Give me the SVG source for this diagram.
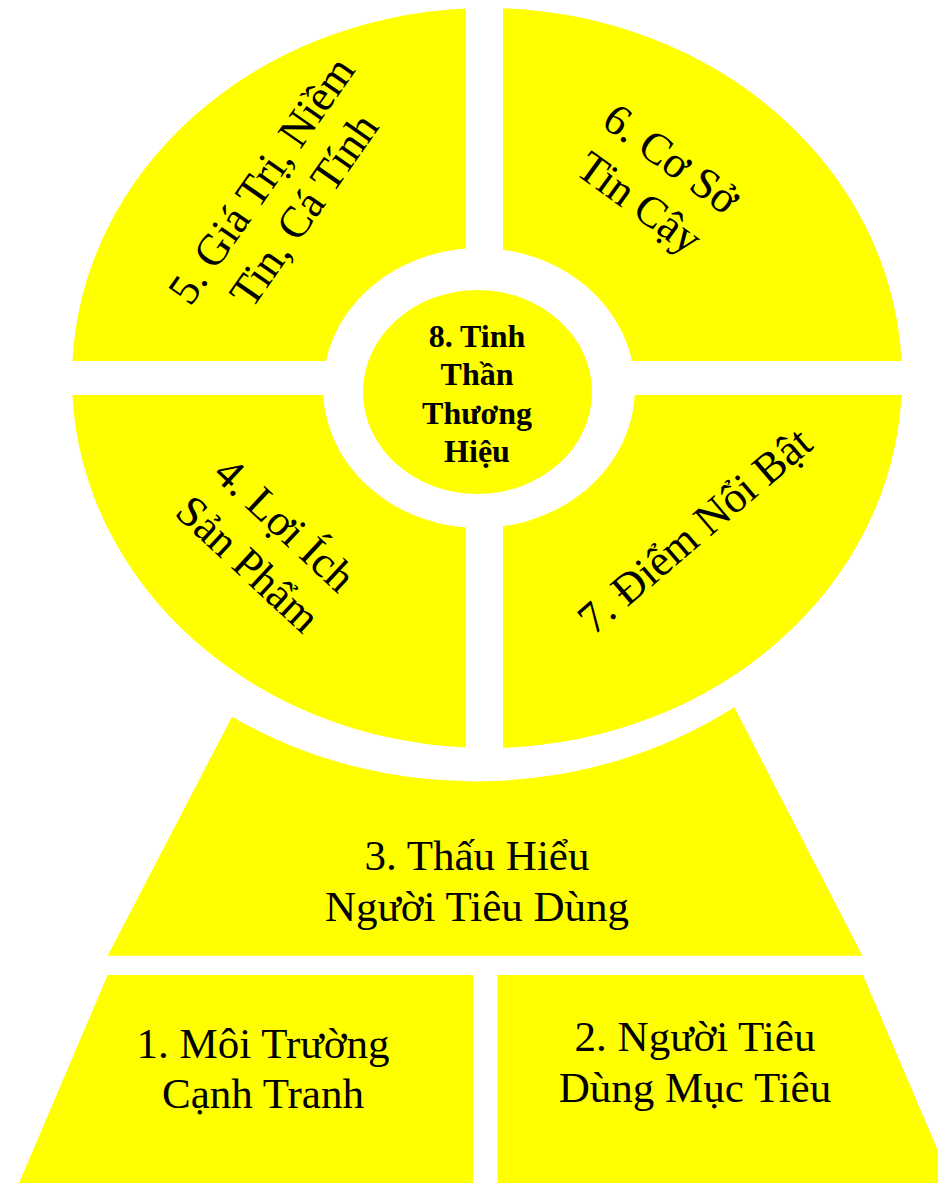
<svg xmlns="http://www.w3.org/2000/svg" width="938" height="1183" viewBox="0 0 938 1183">
  <style>
    .shape { fill: #FFFF00; stroke: none; }
    .lbl { font-family: "Liberation Serif", "Times New Roman", serif; font-size: 44px; fill: #000; text-anchor: middle; }
    .lblb { font-family: "Liberation Serif", "Times New Roman", serif; font-size: 43px; fill: #000; text-anchor: middle; }
    .ctr { font-family: "Liberation Serif", "Times New Roman", serif; font-size: 32px; font-weight: bold; fill: #000; text-anchor: middle; }
  </style>
  <rect x="0" y="0" width="938" height="1183" fill="#FFFFFF"/>
  <g id="connectors"/>

  <g id="node-3">
    <path class="shape" d="M232,716.7 L107.7,955.7 L862.4,955.7 L734.3,707.3 A452,411 0 0 1 232,716.7 Z"/>
    <text class="lblb" x="477" y="870">3. Thấu Hiểu</text>
    <text class="lblb" x="477" y="921">Người Tiêu Dùng</text>
  </g>

  <g id="node-1">
    <path class="shape" d="M107.7,975 L473,975 L473,1183 L19,1183 Z"/>
    <text class="lblb" x="263" y="1058">1. Môi Trường</text>
    <text class="lblb" x="263" y="1108">Cạnh Tranh</text>
  </g>

  <g id="node-2">
    <path class="shape" d="M497.6,975 L863,975 L951.7,1183 L497.6,1183 Z"/>
    <text class="lblb" x="695" y="1051">2. Người Tiêu</text>
    <text class="lblb" x="695" y="1102">Dùng Mục Tiêu</text>
  </g>

  <g id="node-5">
    <path class="shape" d="M466,8.5 A415,370 0 0 0 72.44,361 L325.9,361 A156,140 0 0 1 466,248.5 Z"/>
    <g transform="translate(284,196) rotate(-55)">
      <text class="lbl" x="0" y="-13">5. Giá Trị, Niềm</text>
      <text class="lbl" x="0" y="39">Tin, Cá Tính</text>
    </g>
  </g>

  <g id="node-6">
    <path class="shape" d="M503,8.27 A415,370 0 0 1 901.56,361 L632.07,361 A156,140 0 0 0 503,249.67 Z"/>
    <g transform="translate(654.5,182.1) rotate(36)">
      <text class="lbl" x="0" y="-14">6. Cơ Sở</text>
      <text class="lbl" x="0" y="40">Tin Cậy</text>
    </g>
  </g>

  <g id="node-4">
    <path class="shape" d="M72.44,395 A415,370 0 0 0 466,747.53 L466,527.5 A156,140 0 0 1 323.2,395 Z"/>
    <g transform="translate(265.4,545.5) rotate(43)">
      <text class="lbl" x="0" y="-14">4. Lợi Ích</text>
      <text class="lbl" x="0" y="40">Sản Phẩm</text>
    </g>
  </g>

  <g id="node-7">
    <path class="shape" d="M901.56,395 A415,370 0 0 1 503,747.73 L503,526.33 A156,140 0 0 0 634.8,395 Z"/>
    <g transform="translate(695,531) rotate(-40.5)">
      <text class="lbl" x="0" y="14">7. Điểm Nổi Bật</text>
    </g>
  </g>

  <g id="node-8">
    <ellipse class="shape" cx="477.5" cy="392" rx="114.5" ry="102"/>
    <text class="ctr" x="477" y="346.7">8. Tinh</text>
    <text class="ctr" x="477" y="385">Thần</text>
    <text class="ctr" x="477" y="424">Thương</text>
    <text class="ctr" x="477" y="461.7">Hiệu</text>
  </g>
</svg>
